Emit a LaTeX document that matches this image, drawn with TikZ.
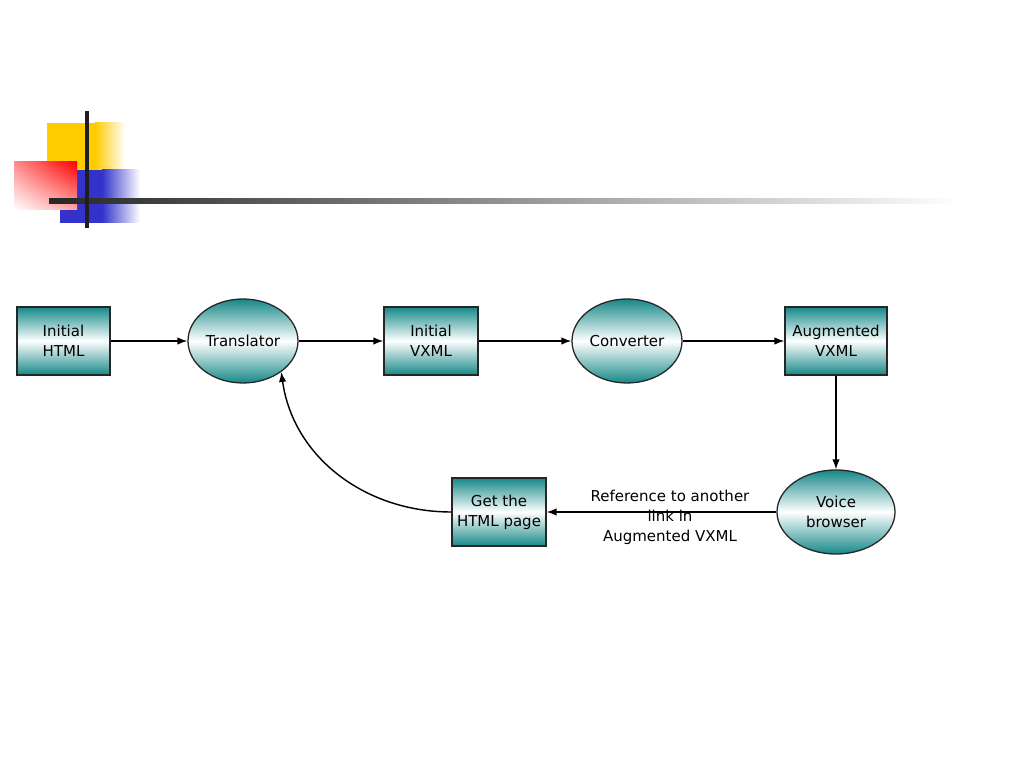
\documentclass[tikz,border=0pt]{standalone}
\usepackage{fontspec}
\setmainfont{DejaVu Sans}
\usepackage{tikz}
\usetikzlibrary{arrows.meta,shapes.geometric,shadings}
\definecolor{tealbox}{RGB}{22,136,136}
\definecolor{slideyellow}{RGB}{255,204,0}
\definecolor{slideblue}{RGB}{51,51,204}
\tikzset{
	flowbox/.style={draw=black!85, line width=0.45mm, rectangle, shading=axis, top color=tealbox, bottom color=tealbox, middle color=white, align=center, inner sep=0pt, font=\fontsize{15}{20}\selectfont},
	flowoval/.style={flowbox, ellipse},
	flowarrow/.style={line width=0.5mm, -{Latex[length=10pt,width=7.5pt]}}
}

\begin{document}
\begin{tikzpicture}[x=1pt, y=1pt]
		%%%%% START %%%%%
		\useasboundingbox (0, 0) rectangle (1024, 768);
		
		% slide corner
		\fill[slideyellow] (47, 598) rectangle (95, 645);
		\shade[left color=slideyellow, right color=white] (95, 598) rectangle (125, 645);
		\fill[slideblue] (60, 545) rectangle (102, 598);
		\shade[left color=slideblue, right color=white] (102, 545) rectangle (140, 598);
		\shade[upper left=red!45, upper right=red, lower left=white, lower right=red!35] (14, 558) rectangle (77, 606);
		\shade[left color=black!85, right color=white] (49, 564) rectangle (960, 569);
		\fill[black!88] (85, 540) rectangle (89, 657);
		
		% flow
		\node[flowbox, minimum width=93, minimum height=68] (html) at (63.5, 427) {Initial\\HTML};
		\node[flowoval, minimum width=110, minimum height=84] (translator) at (243, 427) {Translator};
		\node[flowbox, minimum width=94, minimum height=68] (ivxml) at (431, 427) {Initial\\VXML};
		\node[flowoval, minimum width=110, minimum height=84] (converter) at (627, 427) {Converter};
		\node[flowbox, minimum width=102, minimum height=68] (avxml) at (836, 427) {Augmented\\VXML};
		\node[flowoval, minimum width=118, minimum height=84] (voice) at (836, 256) {Voice\\browser};
		\node[flowbox, minimum width=94, minimum height=68] (gethtml) at (499, 256) {Get the\\HTML page};
		\node[align=center, font=\fontsize{15}{20}\selectfont] (reflabel) at (670, 251) {Reference to another\\link in\\Augmented VXML};
		
		\draw[flowarrow] (html) -- (translator);
		\draw[flowarrow] (translator) -- (ivxml);
		\draw[flowarrow] (ivxml) -- (converter);
		\draw[flowarrow] (converter) -- (avxml);
		\draw[flowarrow] (avxml) -- (voice);
		\draw[flowarrow] (voice) -- (gethtml);
		\draw[flowarrow] (gethtml.west) to[out=180, in=-82] (translator.-39);
		
		%%%%% END %%%%%
	\end{tikzpicture}
\end{document}
